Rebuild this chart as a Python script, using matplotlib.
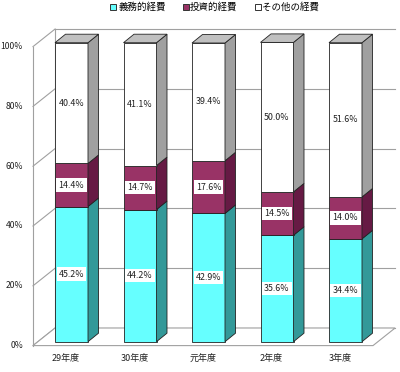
import matplotlib
matplotlib.use('Agg')
import matplotlib.pyplot as plt
from matplotlib.patches import Polygon, Rectangle
from matplotlib.lines import Line2D

plt.rcParams['font.family'] = ['Noto Sans CJK JP', 'DejaVu Sans']

categories = ['29年度', '30年度', '元年度', '2年度', '3年度']
mandatory = [45.2, 44.2, 42.9, 35.6, 34.4]
investment = [14.4, 14.7, 17.6, 14.5, 14.0]
other = [40.4, 41.1, 39.4, 50.0, 51.6]
series_names = ['義務的経費', '投資的経費', 'その他の経費']
yticks = [0, 20, 40, 60, 80, 100]

front_colors = ['#66FFFF', '#993366', '#FFFFFF']
side_colors = ['#339999', '#661A44', '#A0A0A0']
top_color = '#C0C0C0'
edge = '#222222'
grid_c = '#A0A0A0'

W, H = 400, 372
fig = plt.figure(figsize=(W / 100, H / 100), dpi=100)
ax = fig.add_axes([0, 0, 1, 1])
PX_CAT = 68.5
PX_PCT = 2.99
X0, Y0 = 71.5, 341.7
ax.set_xlim((0 - X0) / PX_CAT, (W - X0) / PX_CAT)
ax.set_ylim((Y0 - H) / PX_PCT, Y0 / PX_PCT)
ax.axis('off')


def off(dxp, dyp):
    return dxp / PX_CAT, dyp / PX_PCT


fdx, fdy = off(-4.9, -3.9)     # front plane
bdx, bdy = off(17.2, 13.7)     # back wall
rdx, rdy = off(10.5, 8.5)      # bar depth
hw = 16.5 / PX_CAT
xl = (37.9 - X0) / PX_CAT
xr = (377.9 - X0) / PX_CAT
n = len(categories)

# back wall gridlines
for v in yticks:
    ax.plot([xl + bdx, xr + bdx], [v + bdy, v + bdy], color=grid_c, lw=0.8, zorder=1)
    ax.plot([xl + fdx, xl + bdx], [v + fdy, v + bdy], color=grid_c, lw=0.8, zorder=1)
ax.plot([xl + fdx, xl + fdx], [0 + fdy, 100 + fdy], color=grid_c, lw=0.8, zorder=1)
ax.plot([xl + bdx, xl + bdx], [0 + bdy, 100 + bdy], color=grid_c, lw=0.8, zorder=1)
# floor
floor = Polygon([(xl + fdx, fdy), (xr + fdx, fdy), (xr + bdx, bdy), (xl + bdx, bdy)],
                closed=True, facecolor='white', edgecolor=grid_c, lw=0.8, zorder=1.5)
ax.add_patch(floor)

# tick labels
for v in yticks:
    ax.text(xl + fdx - 10 / PX_CAT, v + fdy, f'{v}%', ha='right', va='center',
            fontsize=6.2, color='#222222', zorder=5)

series = [mandatory, investment, other]
for i in range(n):
    xc = i
    bottom = 0.0
    for s, vals in enumerate(series):
        v = vals[i]
        top = bottom + v
        ax.add_patch(Rectangle((xc - hw, bottom), 2 * hw, v, facecolor=front_colors[s],
                               edgecolor=edge, lw=0.6, zorder=3))
        ax.add_patch(Polygon([(xc + hw, bottom), (xc + hw + rdx, bottom + rdy),
                              (xc + hw + rdx, top + rdy), (xc + hw, top)], closed=True,
                             facecolor=side_colors[s], edgecolor=edge, lw=0.6, zorder=3))
        ax.text(xc, bottom + v / 2, f'{v:.1f}%', ha='center', va='center', fontsize=6.4,
                color='#222222', zorder=6,
                bbox=dict(boxstyle='square,pad=0.25', facecolor='white', edgecolor='none'))
        bottom = top
    ax.add_patch(Polygon([(xc - hw, bottom), (xc - hw + rdx, bottom + rdy),
                          (xc + hw + rdx, bottom + rdy), (xc + hw, bottom)], closed=True,
                         facecolor=top_color, edgecolor=edge, lw=0.6, zorder=3))
    ax.text(xc - 0.08, -5.6, categories[i], ha='center', va='center', fontsize=6.5,
            color='#222222', zorder=5)

handles = [Line2D([], [], marker='s', linestyle='none', markersize=4.5,
                  markerfacecolor=front_colors[k], markeredgecolor='#333333',
                  markeredgewidth=0.7) for k in range(3)]
fig.legend(handles, series_names, loc='center', bbox_to_anchor=(0.535, 0.98), ncol=3,
           frameon=False, fontsize=6.8, handletextpad=0.0, columnspacing=1.6,
           handlelength=1.0)

fig.savefig('out.png', dpi=100)
